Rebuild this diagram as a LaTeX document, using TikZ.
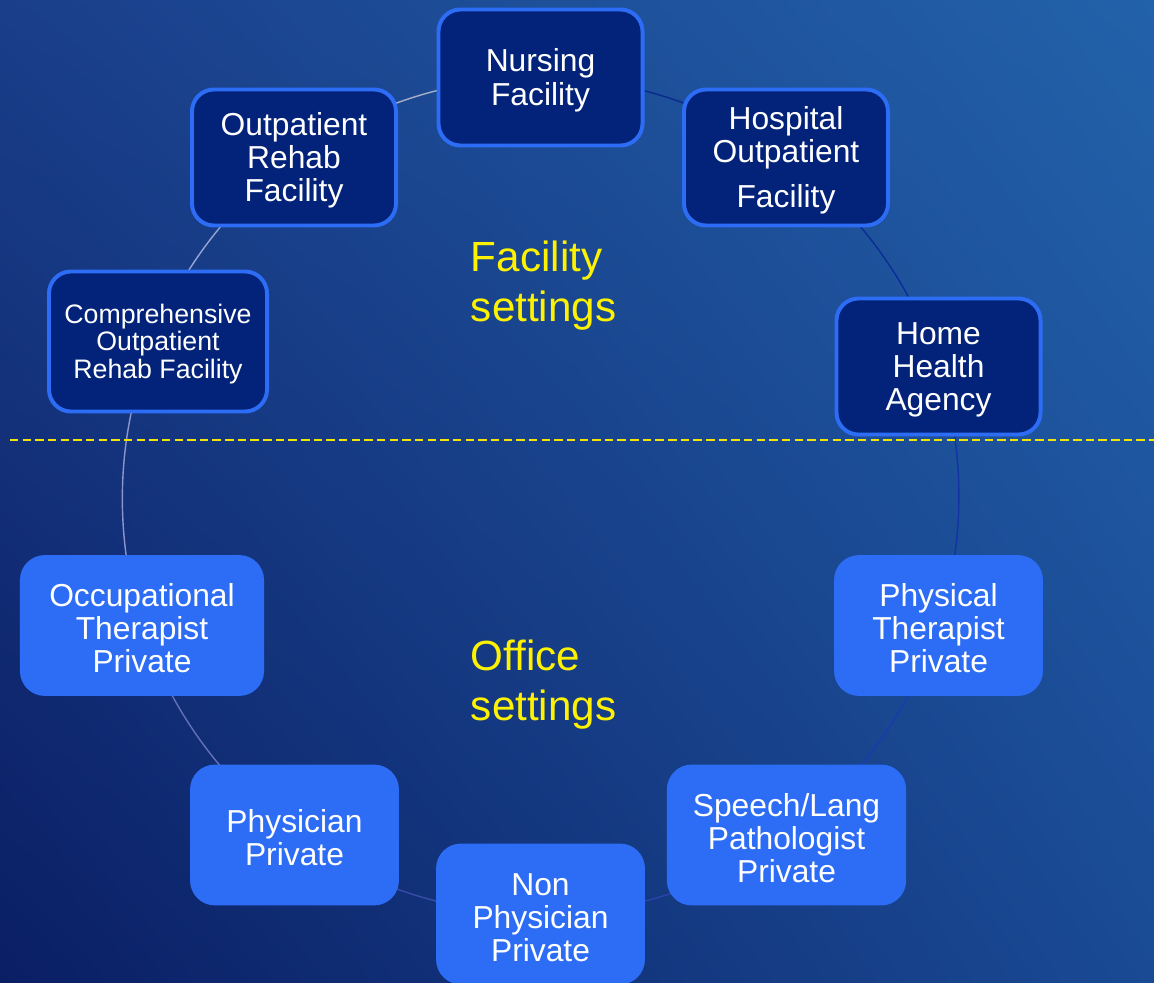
\documentclass[tikz,border=0pt]{standalone}
\usepackage{fontspec}
\setmainfont{Liberation Sans}
\usetikzlibrary{shadings}

\definecolor{bgtl}{HTML}{1A3E8A}
\definecolor{bgtr}{HTML}{2262AA}
\definecolor{bgbl}{HTML}{0A1E64}
\definecolor{bgbr}{HTML}{1A4A94}
\definecolor{navy}{HTML}{03237A}
\definecolor{boxblue}{HTML}{2D6DF6}
\definecolor{lineyellow}{HTML}{F2E600}

\pgfdeclarelayer{bg}
\pgfdeclarelayer{back}
\pgfsetlayers{bg,back,main}

\newcommand{\boxfont}{\fontsize{22.6}{23.5}\selectfont}
% full ascender room on the first line of a box
\newcommand{\topgap}{\rule{0pt}{0.9em}}

\begin{document}
\begin{tikzpicture}[
            x=0.025cm, y=0.025cm,
            facility/.style = {
                draw=boxblue, line width=2.8pt, fill=navy,
                rounded corners=0.55cm, text=white, align=center,
                font=\boxfont, inner sep=0pt,
                minimum width=5.1cm, minimum height=3.4cm
            },
            office/.style = {
                fill=boxblue, rounded corners=0.62cm, text=white,
                align=center, font=\boxfont, inner sep=0pt,
                minimum width=5.22cm, minimum height=3.52cm
            },
            ring/.style = {line width=1pt, looseness=0.87},
            setting/.style = {
                text=yellow, align=left, anchor=west,
                font=\fontsize{30}{35.6}\selectfont
            }
            ]
            \useasboundingbox (0,0) rectangle (1154,982);
            \begin{pgfonlayer}{bg}
                \shade[upper left=bgtl, upper right=bgtr,
                       lower left=bgbl, lower right=bgbr]
                    (0,0) rectangle (1154,982);
            \end{pgfonlayer}

            % Facility settings (upper half)
            \node[facility] (nursing) at (540.5,904.5) {\topgap Nursing\\Facility};
            \node[facility] (hospital) at (786,824.5) {\topgap Hospital\\Outpatient\\[9pt]Facility};
            \node[facility] (home) at (938.5,615.5) {\topgap Home\\Health\\Agency};
            \node[facility, minimum width=5.45cm, minimum height=3.5cm,
                  font=\fontsize{19}{19.6}\selectfont] (comprehensive) at (158,640.5)
                {\topgap Comprehensive\\Outpatient\\Rehab Facility};
            \node[facility] (outpatient) at (294,824.5) {\topgap Outpatient\\Rehab\\Facility};
            \coordinate (comprehensive ring) at ([shift={(-14.5,-25.5)}]comprehensive.center);

            % Office settings (lower half)
            \node[office] (physical) at (938.5,356.5) {\topgap Physical\\Therapist\\Private};
            \node[office, minimum width=5.98cm] (speech) at (786.5,147) {\topgap Speech/Lang\\Pathologist\\Private};
            \node[office] (nonphys) at (540.5,68) {\topgap Non\\Physician\\Private};
            \node[office] (physician) at (294.5,147) {\topgap Physician\\Private};
            \node[office, minimum width=6.1cm] (occupational) at (142,356.5) {\topgap Occupational\\Therapist\\Private};

            \node[setting] (facilitytext) at (466,696) {Facility\\settings};
            \node[setting] (officetext) at (466,297) {Office\\settings};

            % Ring behind the boxes
            \begin{pgfonlayer}{back}
                \foreach \from/\to/\col in {
                    outpatient/nursing/A7AEC9, nursing/hospital/0A2A8C,
                    hospital/home/0C2C95, home/physical/1233A5,
                    physical/speech/1A3AB0, speech/nonphys/2A44AC,
                    nonphys/physician/3A4CAA, physician/occupational/6470B8,
                    occupational/comprehensive ring/8A96CC,
                    comprehensive ring/outpatient/98A4D4}
                {
                    \definecolor{ringcol}{HTML}{\col}
                    \draw[ring, ringcol] (\from.center) to[bend left=18] (\to.center);
                }
            \end{pgfonlayer}

            % Divider between the two groups
            \coordinate (divl) at (10,542);
            \coordinate (divr) at (1154,542);
            \draw[lineyellow, line width=1.2pt, dash pattern=on 6pt off 3pt] (divl) -- (divr);
        \end{tikzpicture}
\end{document}
